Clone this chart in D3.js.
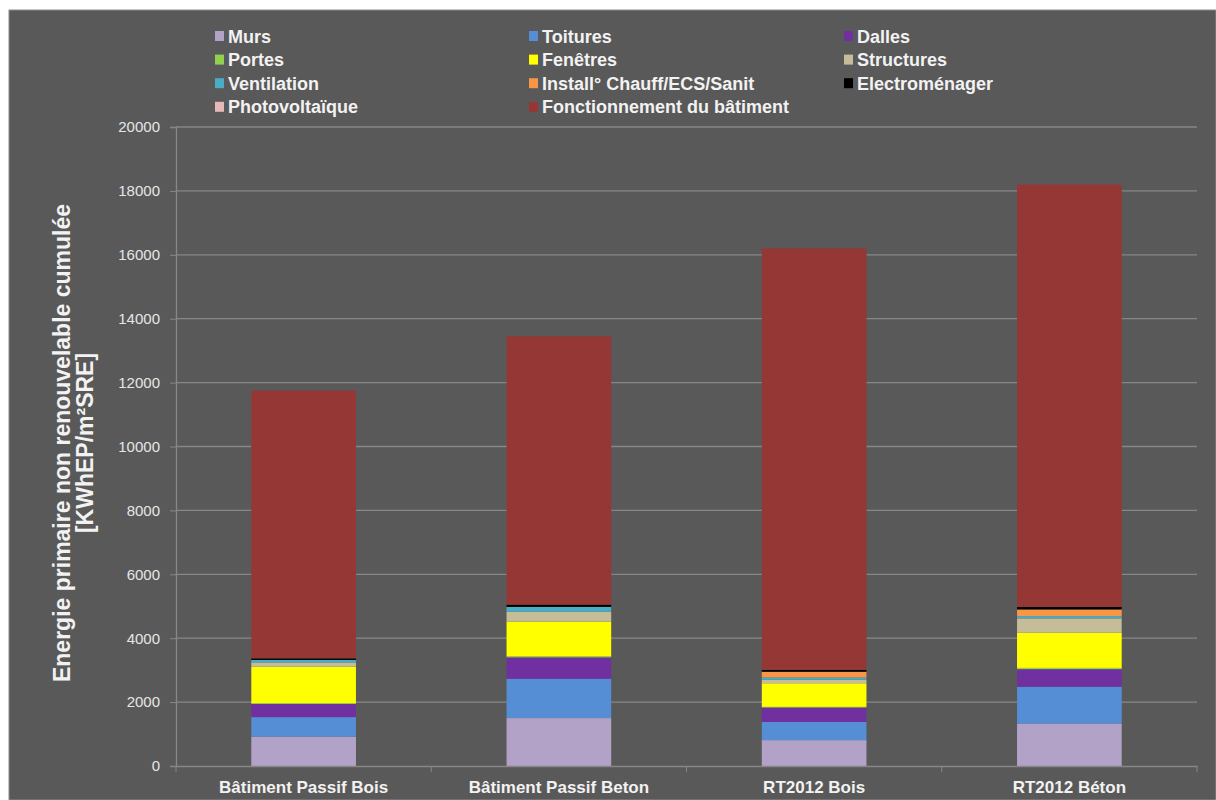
<!DOCTYPE html>
<html><head><meta charset="utf-8">
<script src="https://cdn.jsdelivr.net/npm/d3@7"></script>
<style>html,body{margin:0;padding:0;background:#fff;}svg{display:block;}</style>
</head><body>
<svg id="c" width="1216" height="800"></svg>
<script>
const categories = ["Bâtiment Passif Bois","Bâtiment Passif Beton","RT2012 Bois","RT2012 Béton"];
const seriesNames = ["Murs","Toitures","Dalles","Portes","Fenêtres","Structures","Ventilation","Install° Chauff/ECS/Sanit","Electroménager","Photovoltaïque","Fonctionnement du bâtiment"];
const seriesColors = ["#b3a2c7","#558ed5","#7030a0","#92d050","#ffff00","#c4bd97","#4bacc6","#f79646","#000000","#e6b9b8","#953735"];
const murs = [920,1500,810,1330];
const toitures = [610,1230,570,1150];
const dalles = [410,670,450,550];
const portes = [30,30,20,40];
const fenetres = [1140,1090,740,1100];
const structures = [130,310,110,450];
const ventilation = [80,150,70,70];
const install = [0,0,180,210];
const electromenager = [50,70,60,80];
const photovoltaique = [0,0,0,0];
const fonctionnement = [8380,8400,13190,13220];
const yTicks = [0,2000,4000,6000,8000,10000,12000,14000,16000,18000,20000];
const yTitle = ["Energie primaire non renouvelable cumulée","[KWhEP/m²SRE]"];

(function(){
const FONT = "Liberation Sans, Arial, sans-serif";
const seriesValues = [murs,toitures,dalles,portes,fenetres,structures,ventilation,install,electromenager,photovoltaique,fonctionnement];
const rows = categories.map((c,i)=>{const o={cat:c};seriesNames.forEach((s,j)=>o[s]=seriesValues[j][i]);return o;});

const svg = d3.select("#c");
svg.append("rect").attr("x",9).attr("y",10).attr("width",1207).attr("height",790)
  .attr("fill","#595959").attr("stroke","#8c8c8c").attr("stroke-width",1);

const pL=176,pR=1197,pT=127,pB=766;
const x = d3.scaleBand().domain(categories).range([pL,pR]).paddingInner(0.59).paddingOuter(0.295);
const y = d3.scaleLinear().domain([0,20000]).range([pB,pT]);

// gridlines
svg.append("g").selectAll("line").data(yTicks.filter(d=>d>0)).join("line")
  .attr("x1",pL).attr("x2",pR).attr("y1",d=>y(d)).attr("y2",d=>y(d))
  .attr("stroke","#878787").attr("stroke-width",1.3);

// y axis
const yAxis = svg.append("g").attr("transform",`translate(${pL},0)`)
  .call(d3.axisLeft(y).tickValues(yTicks).tickSize(6).tickPadding(10).tickFormat(d3.format("d")));
yAxis.select(".domain").attr("stroke","#878787").attr("stroke-width",1.3);
yAxis.selectAll(".tick line").attr("stroke","#878787");
yAxis.selectAll("text").attr("fill","#e6e6e6").style("font-family",FONT).style("font-size","15px");

// stacked bars
const stack = d3.stack().keys(seriesNames)(rows);
svg.append("g").selectAll("g").data(stack).join("g")
  .attr("fill",(d,i)=>seriesColors[i])
  .selectAll("rect").data(d=>d).join("rect")
  .attr("x",d=>x(d.data.cat)).attr("width",x.bandwidth())
  .attr("y",d=>y(d[1])).attr("height",d=>Math.max(0,y(d[0])-y(d[1])));

// x axis
const xAxis = svg.append("g").attr("transform",`translate(0,${pB})`)
  .call(d3.axisBottom(x).tickSize(0).tickPadding(15));
xAxis.select(".domain").attr("stroke","#878787").attr("stroke-width",1.3);
xAxis.selectAll("text").attr("fill","#f2f2f2").style("font-family",FONT).style("font-size","17px").style("font-weight","bold");
// boundary ticks
svg.append("g").selectAll("line").data(d3.range(0,categories.length+1)).join("line")
  .attr("x1",i=>pL + i*x.step()).attr("x2",i=>pL + i*x.step())
  .attr("y1",pB).attr("y2",pB+6).attr("stroke","#878787");

// y title
const yt = svg.append("text").attr("transform","translate(0,443) rotate(-90)")
  .attr("text-anchor","middle").attr("fill","#f2f2f2")
  .style("font-family",FONT).style("font-size","23px").style("font-weight","bold");
yTitle.forEach((t,i)=>yt.append("tspan").attr("x",0).attr("y",i===0?70:93).text(t));

// legend
const colX=[215,529,844];
const leg = svg.append("g").selectAll("g").data(seriesNames).join("g")
  .attr("transform",(d,i)=>`translate(${colX[i%3]},${36+Math.floor(i/3)*23.6})`);
leg.append("rect").attr("x",0).attr("y",-5).attr("width",9).attr("height",10).attr("fill",(d,i)=>seriesColors[i]);
leg.append("text").attr("x",13).attr("y",6.5).text(d=>d).attr("fill","#f2f2f2")
  .style("font-family",FONT).style("font-size","18px").style("font-weight","bold");
})();
</script>
</body></html>
